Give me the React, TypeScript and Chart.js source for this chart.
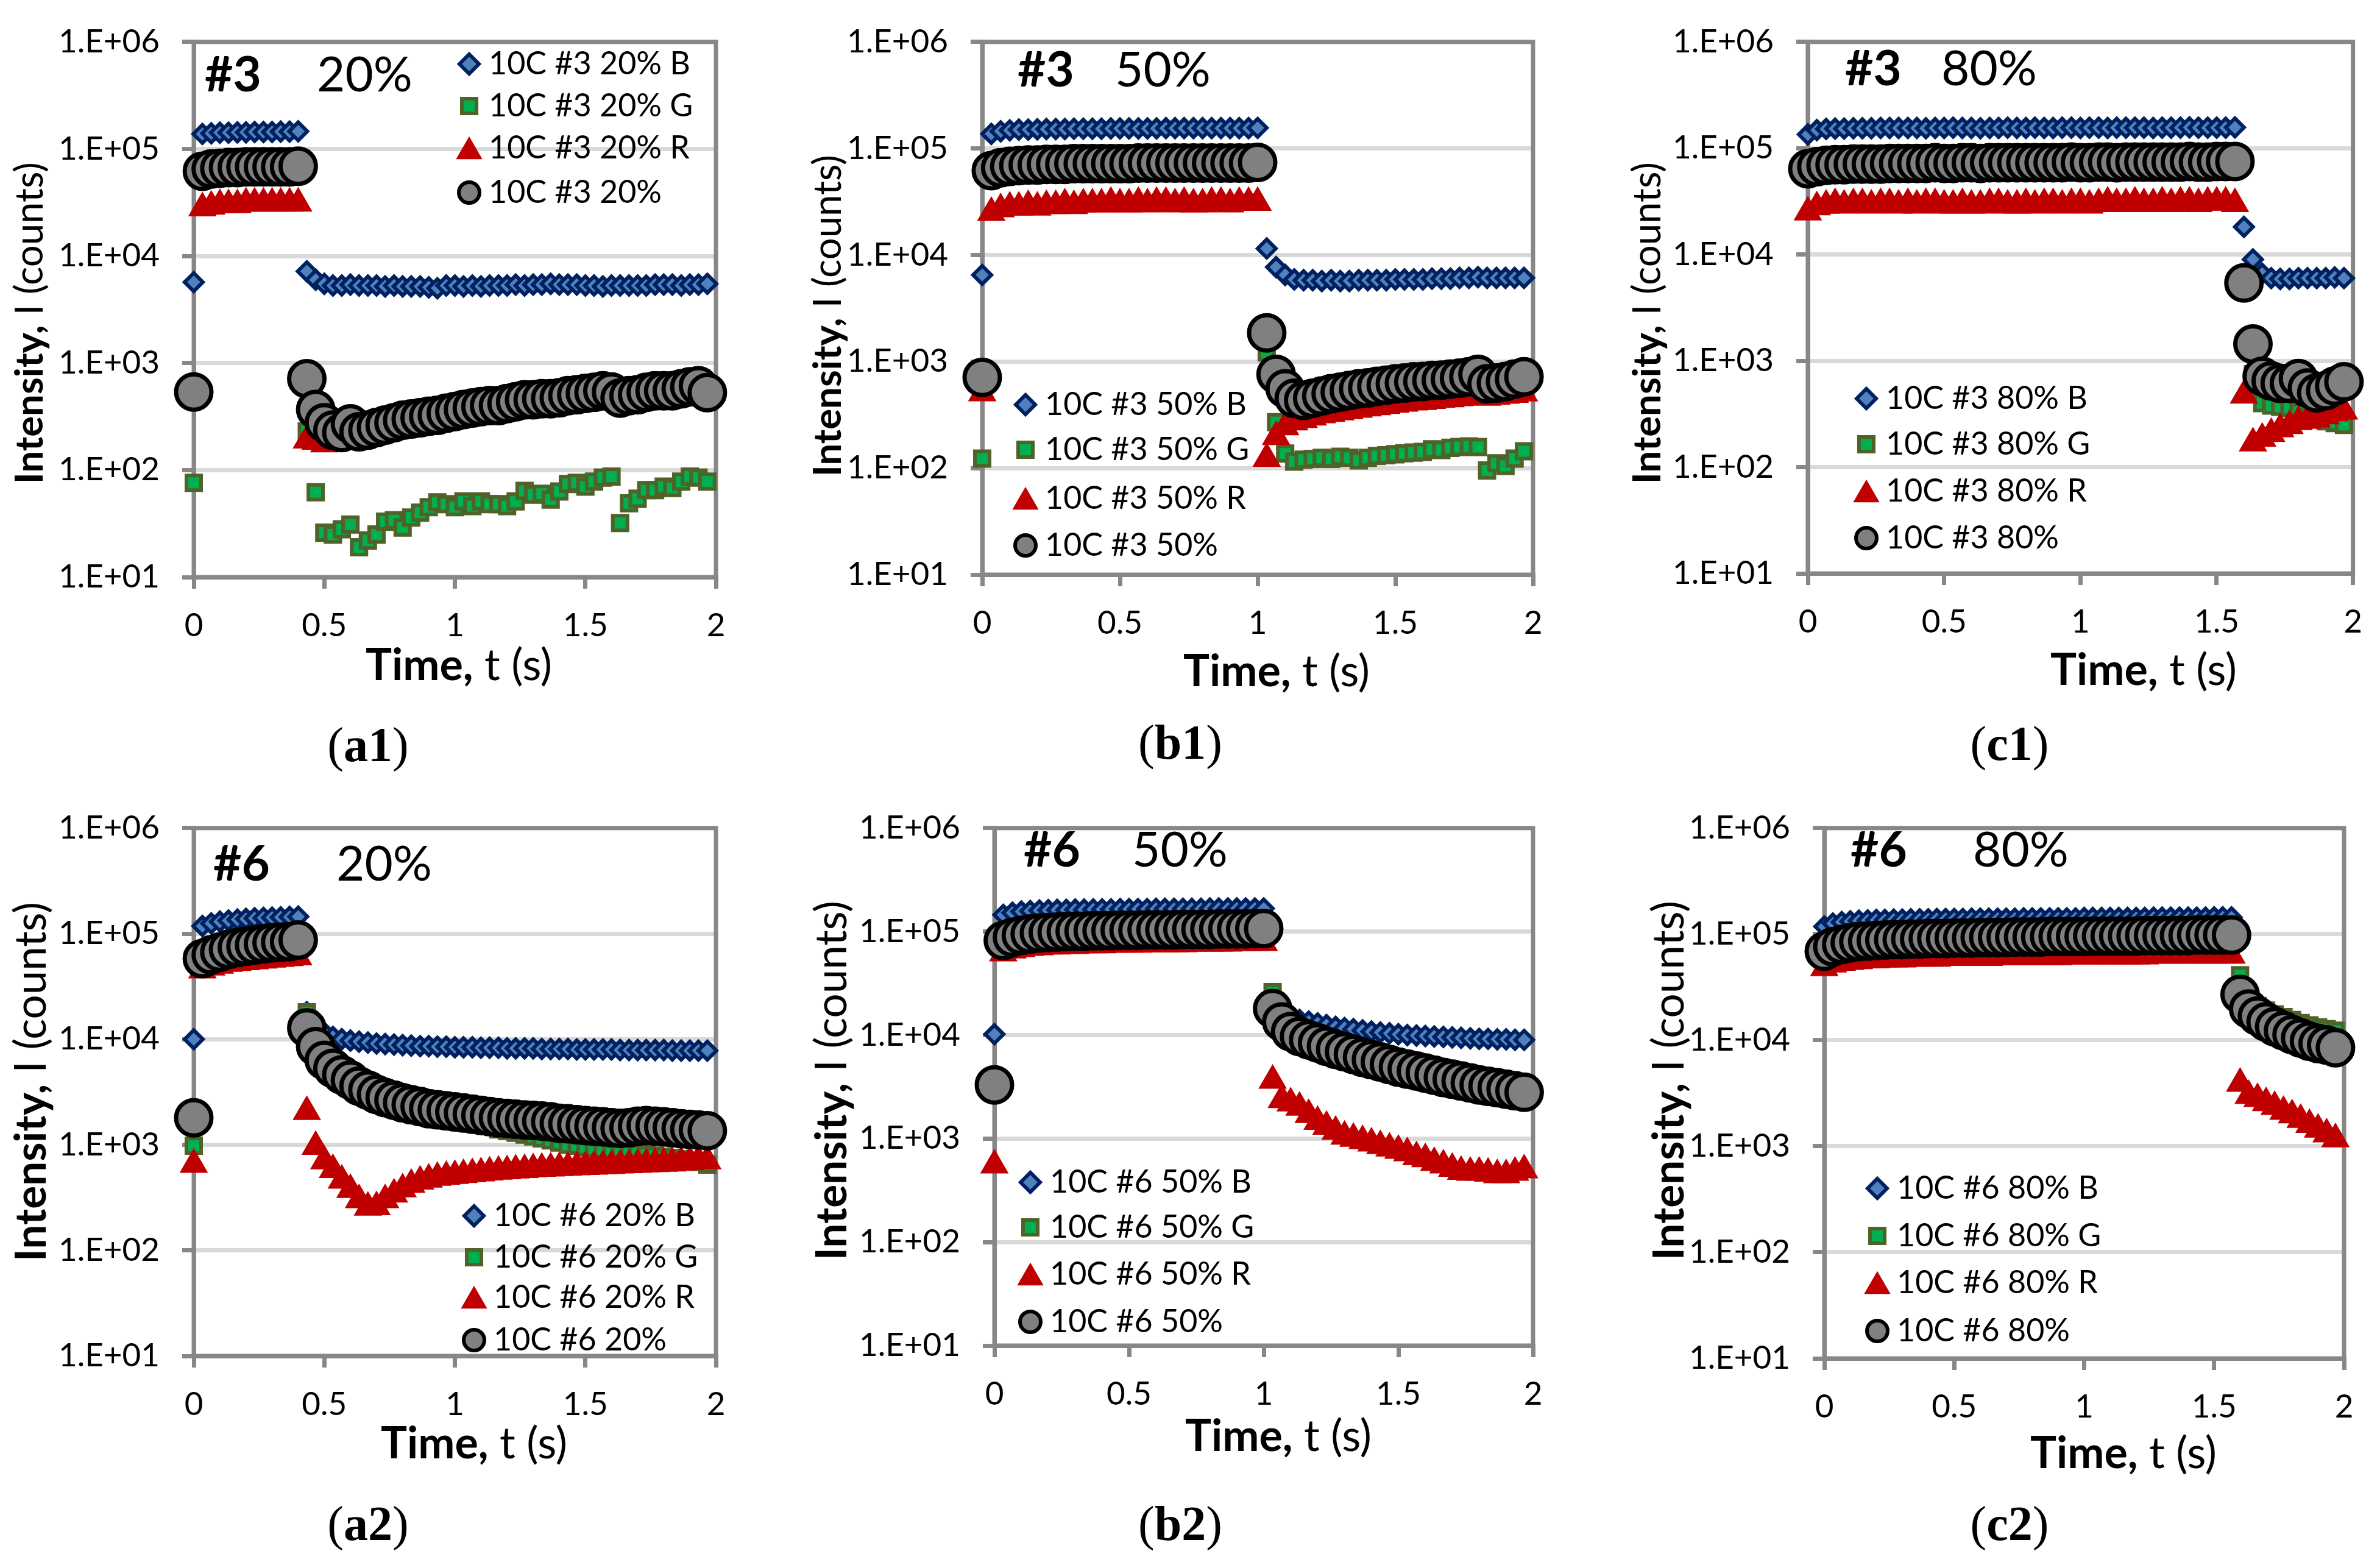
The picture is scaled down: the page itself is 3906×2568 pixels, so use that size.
import React, { useEffect, useRef } from "react";
import { Chart, registerables } from "chart.js";
import { drawPoint } from "chart.js/helpers";

Chart.register(...registerables);

const FONT = "Lato, 'Noto Sans', 'DejaVu Sans', sans-serif";
const GRAY = "#878787";
const GRID = "#D9D9D9";

// ---------- axis ticks ----------
const yTickValues = [10, 100, 1000, 10000, 100000, 1000000];
const yTickLabels = ["1.E+01", "1.E+02", "1.E+03", "1.E+04", "1.E+05", "1.E+06"];
const xTickValues = [0, 0.5, 1, 1.5, 2];
const xTickLabels = ["0", "0.5", "1", "1.5", "2"];

// ---------- time (s) ----------
const times = [0, 0.033, 0.067, 0.1, 0.133, 0.167, 0.2, 0.233, 0.267, 0.3, 0.333, 0.367, 0.4, 0.433, 0.467, 0.5, 0.533, 0.567, 0.6, 0.633, 0.667, 0.7, 0.733, 0.767, 0.8, 0.833, 0.867, 0.9, 0.933, 0.967, 1, 1.033, 1.067, 1.1, 1.133, 1.167, 1.2, 1.233, 1.267, 1.3, 1.333, 1.367, 1.4, 1.433, 1.467, 1.5, 1.533, 1.567, 1.6, 1.633, 1.667, 1.7, 1.733, 1.767, 1.8, 1.833, 1.867, 1.9, 1.933, 1.967];

// ---------- (a1) #3 20% ----------
const a1B = [5700, 138000, 140000, 142000, 142000, 143000, 143000, 144000, 144000, 144000, 145000, 145000, 146000, 7200, 6000, 5500, 5300, 5300, 5400, 5300, 5300, 5300, 5200, 5300, 5200, 5200, 5200, 5100, 5000, 5300, 5300, 5200, 5300, 5200, 5300, 5300, 5300, 5400, 5300, 5400, 5400, 5500, 5400, 5400, 5400, 5300, 5300, 5200, 5300, 5300, 5300, 5300, 5300, 5400, 5400, 5400, 5300, 5400, 5400, 5500];
const a1G = [76, 60000, 62000, 63000, 64000, 64000, 65000, 65000, 65000, 65000, 65000, 65000, 66000, 230, 62, 26, 25, 28, 31, 19, 22, 25, 33, 34, 29, 36, 40, 45, 50, 48, 45, 51, 46, 51, 48, 48, 46, 51, 64, 59, 60, 53, 63, 74, 76, 70, 78, 85, 87, 32, 49, 54, 65, 65, 70, 68, 78, 87, 85, 78];
const a1R = [520, 28000, 29000, 30000, 30000, 30000, 31000, 31000, 31000, 31000, 31000, 31000, 31000, 190, 185, 175, 220, 208, 250, 212, 220, 232, 245, 258, 272, 279, 286, 296, 302, 316, 328, 342, 353, 365, 372, 372, 389, 405, 422, 422, 432, 432, 441, 460, 470, 484, 495, 512, 500, 437, 460, 470, 495, 512, 512, 512, 535, 558, 570, 493];
const a1K = [537, 62000, 65000, 66000, 67000, 67000, 68000, 68000, 68000, 68000, 68000, 68000, 69000, 714, 368, 277, 236, 224, 270, 228, 236, 250, 263, 277, 292, 300, 308, 318, 325, 340, 353, 368, 380, 392, 400, 400, 418, 435, 454, 454, 464, 464, 474, 495, 505, 520, 532, 550, 537, 470, 495, 505, 532, 550, 550, 550, 575, 600, 613, 530];

// ---------- (b1) #3 50% ----------
const b1B = [6500, 137000, 145000, 148000, 150000, 150000, 151000, 152000, 152000, 152000, 153000, 153000, 153000, 153000, 154000, 154000, 154000, 154000, 154000, 154000, 155000, 155000, 155000, 155000, 155000, 155000, 155000, 155000, 155000, 155000, 156000, 11500, 7700, 6500, 5900, 5800, 5800, 5700, 5800, 5700, 5700, 5800, 5800, 5800, 5800, 5900, 5900, 5900, 5900, 6000, 6000, 6000, 6100, 6100, 6200, 6100, 6100, 6100, 6100, 6100];
const b1G = [123, 58000, 61000, 62000, 63000, 64000, 64000, 65000, 65000, 65000, 65000, 66000, 66000, 66000, 66000, 66000, 67000, 67000, 67000, 67000, 67000, 67000, 67000, 68000, 68000, 68000, 68000, 68000, 68000, 68000, 68000, 1220, 270, 137, 115, 120, 122, 125, 122, 128, 125, 118, 125, 130, 132, 135, 138, 140, 142, 150, 148, 155, 158, 160, 158, 95, 111, 105, 123, 144];
const b1R = [507, 25000, 27000, 28000, 28000, 29000, 28000, 29000, 29000, 30000, 29000, 30000, 30000, 30000, 31000, 30000, 30000, 31000, 30000, 31000, 31000, 30000, 31000, 30000, 30000, 31000, 31000, 30000, 31000, 31000, 31000, 123, 197, 243, 270, 285, 300, 315, 325, 335, 345, 355, 365, 375, 385, 395, 405, 415, 420, 430, 440, 445, 455, 465, 475, 460, 470, 480, 490, 505];
const b1K = [710, 62000, 66000, 68000, 69000, 70000, 70000, 71000, 71000, 71000, 72000, 72000, 72000, 72000, 72000, 72000, 72000, 73000, 73000, 73000, 73000, 73000, 73000, 73000, 73000, 73000, 73000, 73000, 73000, 73000, 74000, 1860, 760, 556, 452, 432, 452, 475, 500, 517, 535, 556, 566, 586, 600, 618, 630, 645, 650, 665, 670, 686, 700, 720, 760, 618, 630, 650, 686, 720];

// ---------- (c1) #3 80% ----------
const c1B = [135000, 148000, 152000, 153000, 153000, 154000, 154000, 154000, 155000, 155000, 155000, 155000, 155000, 154000, 155000, 155000, 156000, 155000, 155000, 154000, 155000, 155000, 156000, 155000, 155000, 156000, 155000, 155000, 156000, 156000, 155000, 156000, 156000, 155000, 156000, 156000, 156000, 156000, 155000, 156000, 156000, 156000, 157000, 156000, 156000, 156000, 156000, 157000, 18200, 9000, 6600, 6000, 5900, 5900, 6000, 6000, 6000, 6000, 6100, 6000];
const c1G = [58000, 62000, 64000, 65000, 65000, 66000, 66000, 66000, 66000, 67000, 67000, 67000, 67000, 67000, 68000, 67000, 67000, 68000, 68000, 67000, 68000, 68000, 68000, 68000, 68000, 68000, 68000, 68000, 68000, 69000, 68000, 68000, 69000, 69000, 68000, 69000, 69000, 69000, 69000, 69000, 69000, 69000, 70000, 69000, 69000, 70000, 70000, 70000, 4500, 750, 400, 380, 370, 360, 330, 300, 280, 270, 260, 250];
const c1R = [25000, 28000, 29000, 30000, 29000, 30000, 30000, 29000, 30000, 30000, 29000, 30000, 29000, 30000, 30000, 29000, 29000, 30000, 29000, 29000, 30000, 30000, 29000, 29000, 30000, 29000, 30000, 30000, 29000, 30000, 30000, 29000, 30000, 31000, 30000, 30000, 31000, 30000, 30000, 31000, 30000, 31000, 31000, 30000, 31000, 31000, 31000, 30000, 473, 168, 186, 206, 228, 245, 267, 275, 282, 302, 323, 335];
const c1K = [64000, 67000, 69000, 70000, 70000, 71000, 71000, 71000, 71000, 72000, 72000, 72000, 72000, 72000, 73000, 72000, 72000, 73000, 73000, 72000, 73000, 73000, 73000, 73000, 73000, 73000, 73000, 73000, 73000, 74000, 73000, 73000, 74000, 74000, 73000, 74000, 74000, 74000, 74000, 74000, 74000, 74000, 75000, 74000, 74000, 75000, 75000, 75000, 5400, 1440, 716, 647, 615, 615, 680, 555, 500, 525, 580, 635];

// ---------- (a2) #6 20% ----------
const a2B = [10000, 118000, 125000, 130000, 133000, 136000, 138000, 140000, 141000, 142000, 143000, 144000, 145000, 18000, 13500, 11500, 10500, 10000, 9700, 9500, 9300, 9100, 9000, 8900, 8800, 8700, 8600, 8600, 8500, 8500, 8400, 8400, 8400, 8300, 8300, 8300, 8200, 8200, 8200, 8200, 8100, 8100, 8100, 8100, 8000, 8000, 8000, 8000, 8000, 7900, 7900, 7900, 7900, 7900, 7900, 7800, 7800, 7800, 7800, 7800];
const a2G = [980, 52000, 57000, 61000, 64000, 67000, 69000, 71000, 72000, 74000, 75000, 76000, 78000, 18000, 9000, 6500, 5200, 4400, 3900, 3400, 3100, 2800, 2600, 2450, 2300, 2200, 2100, 2000, 1950, 1900, 1850, 1800, 1700, 1600, 1500, 1400, 1350, 1300, 1250, 1200, 1150, 1100, 1050, 1000, 980, 950, 930, 910, 890, 870, 850, 830, 810, 790, 770, 750, 730, 710, 690, 650];
const a2R = [650, 45000, 48000, 50000, 52000, 53000, 54000, 55000, 56000, 57000, 58000, 59000, 60000, 2060, 960, 700, 580, 460, 375, 300, 255, 258, 300, 340, 380, 420, 450, 470, 490, 500, 510, 520, 530, 540, 550, 560, 565, 575, 580, 590, 595, 600, 605, 610, 615, 620, 625, 630, 635, 640, 645, 650, 655, 660, 665, 670, 680, 690, 700, 700];
const a2K = [1800, 58000, 63000, 67000, 71000, 74000, 76000, 78000, 80000, 82000, 83000, 84000, 87000, 12800, 8500, 6300, 5300, 4600, 4100, 3600, 3300, 3000, 2800, 2650, 2500, 2400, 2300, 2200, 2150, 2100, 2050, 2000, 1950, 1900, 1850, 1800, 1780, 1750, 1720, 1700, 1680, 1650, 1600, 1580, 1550, 1520, 1500, 1480, 1450, 1430, 1450, 1500, 1520, 1500, 1480, 1450, 1420, 1400, 1380, 1360];

// ---------- (b2) #6 50% ----------
const b2B = [10200, 145000, 152000, 156000, 158000, 160000, 161000, 162000, 162000, 163000, 163000, 164000, 164000, 164000, 165000, 165000, 165000, 165000, 166000, 166000, 166000, 166000, 166000, 166000, 167000, 167000, 167000, 167000, 167000, 167000, 167000, 22000, 17000, 15000, 14000, 13500, 13000, 12500, 12000, 11700, 11400, 11100, 10800, 10600, 10400, 10200, 10000, 9900, 9800, 9700, 9600, 9500, 9400, 9300, 9200, 9200, 9100, 9100, 9000, 9000];
const b2G = [3000, 76000, 82000, 86000, 88000, 90000, 91000, 92000, 93000, 94000, 94000, 95000, 95000, 96000, 96000, 96000, 97000, 97000, 97000, 98000, 98000, 98000, 98000, 99000, 99000, 99000, 99000, 100000, 100000, 100000, 100000, 26000, 16000, 13000, 11500, 10500, 9700, 9000, 8400, 7900, 7400, 7000, 6600, 6200, 5900, 5600, 5300, 5000, 4800, 4600, 4400, 4200, 4000, 3850, 3700, 3550, 3400, 3300, 3200, 3100];
const b2R = [553, 62000, 66000, 68000, 70000, 71000, 72000, 72000, 73000, 73000, 74000, 74000, 74000, 75000, 75000, 75000, 75000, 76000, 76000, 76000, 76000, 76000, 77000, 77000, 77000, 77000, 77000, 78000, 78000, 78000, 78000, 3640, 2370, 2200, 2000, 1700, 1460, 1310, 1170, 1050, 1000, 950, 900, 850, 805, 765, 725, 665, 635, 584, 553, 513, 480, 470, 470, 460, 446, 446, 470, 497];
const b2K = [3300, 82000, 88000, 92000, 95000, 97000, 98000, 99000, 100000, 101000, 101000, 102000, 102000, 102000, 103000, 103000, 103000, 104000, 104000, 104000, 104000, 105000, 105000, 105000, 105000, 106000, 106000, 106000, 106000, 107000, 107000, 18000, 13400, 10800, 9700, 9000, 8400, 7800, 7300, 6900, 6500, 6100, 5800, 5500, 5200, 4900, 4700, 4500, 4300, 4100, 3900, 3750, 3600, 3450, 3300, 3200, 3100, 3000, 2900, 2800];

// ---------- (c2) #6 80% ----------
const c2B = [118000, 126000, 130000, 132000, 134000, 135000, 136000, 136000, 137000, 137000, 138000, 138000, 138000, 139000, 139000, 139000, 139000, 140000, 140000, 140000, 140000, 140000, 140000, 141000, 141000, 141000, 141000, 141000, 141000, 141000, 142000, 142000, 142000, 142000, 142000, 142000, 142000, 142000, 143000, 143000, 143000, 143000, 143000, 143000, 143000, 144000, 144000, 144000, 33000, 22000, 19000, 17000, 16000, 15000, 14000, 13300, 12700, 12100, 11700, 11200];
const c2G = [62000, 68000, 72000, 75000, 77000, 78000, 79000, 80000, 80000, 81000, 81000, 82000, 82000, 82000, 83000, 83000, 83000, 84000, 84000, 84000, 84000, 85000, 85000, 85000, 85000, 85000, 86000, 86000, 86000, 86000, 86000, 87000, 87000, 87000, 87000, 87000, 87000, 88000, 88000, 88000, 88000, 88000, 88000, 89000, 89000, 89000, 89000, 89000, 41000, 25000, 21000, 19000, 17500, 16500, 15500, 14500, 13800, 13200, 12700, 12300];
const c2R = [48000, 52000, 54000, 55000, 56000, 57000, 57000, 58000, 58000, 58000, 59000, 59000, 59000, 59000, 60000, 60000, 60000, 60000, 60000, 60000, 61000, 61000, 61000, 61000, 61000, 61000, 61000, 61000, 62000, 62000, 62000, 62000, 62000, 62000, 62000, 62000, 62000, 62000, 63000, 63000, 63000, 63000, 63000, 63000, 63000, 63000, 63000, 63000, 3900, 3000, 2800, 2560, 2360, 2120, 1970, 1780, 1600, 1440, 1300, 1170];
const c2K = [69000, 76000, 80000, 83000, 85000, 86000, 87000, 88000, 89000, 89000, 90000, 90000, 91000, 91000, 91000, 92000, 92000, 92000, 93000, 93000, 93000, 93000, 94000, 94000, 94000, 94000, 95000, 95000, 95000, 95000, 95000, 96000, 96000, 96000, 96000, 96000, 96000, 97000, 97000, 97000, 97000, 97000, 97000, 98000, 98000, 98000, 98000, 98000, 27000, 19700, 16900, 14900, 13400, 12300, 11300, 10500, 9800, 9300, 9000, 8500];

// ---------- styles ----------
type SeriesKey = "B" | "G" | "R" | "K";
const seriesOrder: SeriesKey[] = ["B", "G", "R", "K"];
const seriesSuffix: Record<SeriesKey, string> = { B: " B", G: " G", R: " R", K: "" };
const seriesStyle: Record<SeriesKey, any> = {
  B: { pointStyle: "rectRot", radius: 15, borderWidth: 6, bg: "#4F81BD", border: "#002060", lr: 16, lbw: 6, order: 3 },
  G: { pointStyle: "rect", radius: 17, borderWidth: 6, bg: "#00B050", border: "#4F6228", lr: 17, lbw: 6, order: 2 },
  R: { pointStyle: "triangle", radius: 25, borderWidth: 2, bg: "#C00000", border: "#C00000", lr: 23, lbw: 2, order: 1 },
  K: { pointStyle: "circle", radius: 29, borderWidth: 7, bg: "#808080", border: "#000000", lr: 17, lbw: 6, order: 0 },
};

const Y_AXIS_W = 230;
const X_AXIS_H = 120;

type PanelCfg = {
  key: string;
  sample: string;
  pct: string;
  data: Record<SeriesKey, number[]>;
  cell: { x: number; y: number; w: number; h: number };
  plot: { l: number; t: number; r: number; b: number };
  tag: { x1: number; x2: number; y: number };
  legend: { mx: number; tx: number; rows: number[] };
  yTitle: { x: number; y: number; len: number };
  xTitle: { x: number; y: number; len: number };
  caption: { x: number; y: number; letter: string };
};

const panels: PanelCfg[] = [
  {
    key: "a1", sample: "#3", pct: "20%",
    data: { B: a1B, G: a1G, R: a1R, K: a1K },
    cell: { x: 0, y: 0, w: 1300, h: 1290 },
    plot: { l: 318, t: 62, r: 1175, b: 947 },
    tag: { x1: 336, x2: 520, y: 150 },
    legend: { mx: 770, tx: 802, rows: [105, 174, 243, 316] },
    yTitle: { x: 50, y: 530, len: 528 },
    xTitle: { x: 753, y: 1093, len: 306 },
    caption: { x: 604, y: 1222, letter: "a1" },
  },
  {
    key: "b1", sample: "#3", pct: "50%",
    data: { B: b1B, G: b1G, R: b1R, K: b1K },
    cell: { x: 1300, y: 0, w: 1300, h: 1290 },
    plot: { l: 1612, t: 48, r: 2516, b: 943 },
    tag: { x1: 1670, x2: 1830, y: 142 },
    legend: { mx: 1683, tx: 1715, rows: [664, 738, 818, 895] },
    yTitle: { x: 1360, y: 518, len: 528 },
    xTitle: { x: 2095, y: 1103, len: 306 },
    caption: { x: 1937, y: 1218, letter: "b1" },
  },
  {
    key: "c1", sample: "#3", pct: "80%",
    data: { B: c1B, G: c1G, R: c1R, K: c1K },
    cell: { x: 2600, y: 0, w: 1306, h: 1290 },
    plot: { l: 2967, t: 45, r: 3872, b: 941 },
    tag: { x1: 3028, x2: 3186, y: 140 },
    legend: { mx: 3063, tx: 3095, rows: [654, 729, 806, 883] },
    yTitle: { x: 2705, y: 530, len: 528 },
    xTitle: { x: 3518, y: 1101, len: 306 },
    caption: { x: 3298, y: 1220, letter: "c1" },
  },
  {
    key: "a2", sample: "#6", pct: "20%",
    data: { B: a2B, G: a2G, R: a2R, K: a2K },
    cell: { x: 0, y: 1290, w: 1300, h: 1278 },
    plot: { l: 318, t: 1353, r: 1175, b: 2225 },
    tag: { x1: 350, x2: 552, y: 1445 },
    legend: { mx: 778, tx: 810, rows: [1995, 2063, 2129, 2199] },
    yTitle: { x: 52, y: 1775, len: 590 },
    xTitle: { x: 778, y: 2370, len: 306 },
    caption: { x: 604, y: 2500, letter: "a2" },
  },
  {
    key: "b2", sample: "#6", pct: "50%",
    data: { B: b2B, G: b2G, R: b2R, K: b2K },
    cell: { x: 1300, y: 1290, w: 1300, h: 1278 },
    plot: { l: 1632, t: 1338, r: 2516, b: 2208 },
    tag: { x1: 1680, x2: 1858, y: 1422 },
    legend: { mx: 1691, tx: 1723, rows: [1940, 2014, 2091, 2169] },
    yTitle: { x: 1366, y: 1773, len: 590 },
    xTitle: { x: 2098, y: 2358, len: 306 },
    caption: { x: 1937, y: 2500, letter: "b2" },
  },
  {
    key: "c2", sample: "#6", pct: "80%",
    data: { B: c2B, G: c2G, R: c2R, K: c2K },
    cell: { x: 2600, y: 1290, w: 1306, h: 1278 },
    plot: { l: 2994, t: 1331, r: 3847, b: 2229 },
    tag: { x1: 3037, x2: 3238, y: 1422 },
    legend: { mx: 3081, tx: 3113, rows: [1950, 2028, 2105, 2184] },
    yTitle: { x: 2740, y: 1773, len: 590 },
    xTitle: { x: 3485, y: 2386, len: 306 },
    caption: { x: 3298, y: 2500, letter: "c2" },
  },
];

type Part = { text: string; bold: boolean };

function partsWidth(ctx: CanvasRenderingContext2D, parts: Part[], size: number) {
  let w = 0;
  for (const p of parts) {
    ctx.font = `${p.bold ? "bold " : ""}${size}px ${FONT}`;
    w += ctx.measureText(p.text).width;
  }
  return w;
}

function drawPartsCentered(ctx: CanvasRenderingContext2D, parts: Part[], cx: number, cy: number, targetLen: number) {
  const base = 60;
  const size = (base * targetLen) / partsWidth(ctx, parts, base);
  const w = partsWidth(ctx, parts, size);
  let x = cx - w / 2;
  ctx.textBaseline = "middle";
  ctx.textAlign = "left";
  ctx.fillStyle = "#000";
  for (const p of parts) {
    ctx.font = `${p.bold ? "bold " : ""}${size}px ${FONT}`;
    ctx.fillText(p.text, x, cy);
    x += ctx.measureText(p.text).width;
  }
}

function makeDecor(p: PanelCfg) {
  const ox = p.cell.x;
  const oy = p.cell.y;
  return {
    id: "decor_" + p.key,
    beforeDatasetsDraw(chart: any) {
      const { ctx, chartArea: a } = chart;
      ctx.save();
      ctx.strokeStyle = GRAY;
      ctx.lineWidth = 7;
      ctx.strokeRect(a.left, a.top, a.right - a.left, a.bottom - a.top);
      ctx.restore();
    },
    afterDatasetsDraw(chart: any) {
      const ctx: CanvasRenderingContext2D = chart.ctx;
      ctx.save();
      ctx.fillStyle = "#000";
      ctx.textBaseline = "alphabetic";
      ctx.textAlign = "left";
      ctx.font = `bold 80px ${FONT}`;
      ctx.fillText(p.sample, p.tag.x1 - ox, p.tag.y - oy);
      ctx.font = `80px ${FONT}`;
      ctx.fillText(p.pct, p.tag.x2 - ox, p.tag.y - oy);
      seriesOrder.forEach((k, i) => {
        const s = seriesStyle[k];
        const y = p.legend.rows[i] - oy;
        const yOff = s.pointStyle === "triangle" ? s.lr * 0.25 : 0;
        ctx.fillStyle = s.bg;
        ctx.strokeStyle = s.border;
        ctx.lineWidth = s.lbw;
        drawPoint(ctx, { pointStyle: s.pointStyle, radius: s.lr, borderWidth: s.lbw, rotation: 0 } as any, p.legend.mx - ox, y + yOff);
        ctx.fillStyle = "#000";
        ctx.font = `52px ${FONT}`;
        ctx.textBaseline = "middle";
        ctx.textAlign = "left";
        ctx.fillText(`10C ${p.sample} ${p.pct}${seriesSuffix[k]}`, p.legend.tx - ox, y);
      });
      ctx.restore();
    },
    afterDraw(chart: any) {
      const ctx: CanvasRenderingContext2D = chart.ctx;
      ctx.save();
      ctx.translate(p.yTitle.x - ox, p.yTitle.y - oy);
      ctx.rotate(-Math.PI / 2);
      drawPartsCentered(ctx, [{ text: "Intensity,", bold: true }, { text: " I (counts)", bold: false }], 0, 0, p.yTitle.len);
      ctx.restore();
      ctx.save();
      drawPartsCentered(ctx, [{ text: "Time,", bold: true }, { text: " t (s)", bold: false }], p.xTitle.x - ox, p.xTitle.y - oy, p.xTitle.len);
      ctx.restore();
    },
  };
}

function Panel({ p }: { p: PanelCfg }) {
  const ref = useRef<HTMLCanvasElement>(null);
  useEffect(() => {
    const canvas = ref.current;
    if (!canvas) return;
    const datasets = seriesOrder.map((k) => {
      const s = seriesStyle[k];
      const vals = p.data[k];
      return {
        label: `10C ${p.sample} ${p.pct}${seriesSuffix[k]}`,
        data: times.map((t, i) => ({ x: t, y: vals[i] })),
        pointStyle: s.pointStyle,
        pointRadius: s.radius,
        pointHoverRadius: s.radius,
        pointBorderWidth: s.borderWidth,
        pointHoverBorderWidth: s.borderWidth,
        pointBackgroundColor: s.bg,
        pointBorderColor: s.border,
        showLine: false,
        clip: false as any,
        order: s.order,
      };
    });
    const chart = new Chart(canvas, {
      type: "scatter",
      data: { datasets },
      options: {
        responsive: false,
        animation: false,
        events: [],
        layout: {
          padding: {
            left: p.plot.l - p.cell.x - Y_AXIS_W,
            top: p.plot.t - p.cell.y,
            right: p.cell.x + p.cell.w - p.plot.r,
            bottom: p.cell.y + p.cell.h - p.plot.b - X_AXIS_H,
          },
        },
        plugins: { legend: { display: false }, tooltip: { enabled: false }, title: { display: false } },
        scales: {
          x: {
            type: "linear",
            min: 0,
            max: 2,
            afterBuildTicks: (s: any) => {
              s.ticks = xTickValues.map((v) => ({ value: v }));
            },
            afterFit: (s: any) => {
              s.height = X_AXIS_H;
            },
            ticks: {
              callback: (v: any) => xTickLabels[xTickValues.indexOf(Number(v))] ?? "",
              font: { family: FONT, size: 53 },
              color: "#000",
              padding: 29,
              maxRotation: 0,
              autoSkip: false,
            },
            grid: { drawOnChartArea: false, drawTicks: true, tickLength: 19, tickWidth: 7, tickColor: GRAY, lineWidth: 7, color: GRAY },
            border: { display: true, color: GRAY, width: 7 },
          },
          y: {
            type: "logarithmic",
            min: 10,
            max: 1000000,
            afterBuildTicks: (s: any) => {
              s.ticks = yTickValues.map((v) => ({ value: v }));
            },
            afterFit: (s: any) => {
              s.width = Y_AXIS_W;
            },
            ticks: {
              callback: (v: any) => yTickLabels[yTickValues.indexOf(Number(v))] ?? "",
              font: { family: FONT, size: 53 },
              color: "#000",
              padding: 37,
              autoSkip: false,
            },
            grid: { color: GRID, lineWidth: 7, drawTicks: true, tickLength: 19, tickWidth: 7, tickColor: GRAY },
            border: { display: true, color: GRAY, width: 7 },
          },
        },
      } as any,
      plugins: [makeDecor(p)],
    });
    return () => chart.destroy();
  }, [p]);
  return (
    <canvas
      ref={ref}
      width={p.cell.w}
      height={p.cell.h}
      style={{ position: "absolute", left: p.cell.x, top: p.cell.y, width: p.cell.w, height: p.cell.h }}
    />
  );
}

export default function App() {
  return (
    <div style={{ position: "absolute", left: 0, top: 0, width: 3906, height: 2568, background: "#fff", overflow: "hidden" }}>
      {panels.map((p) => (
        <Panel key={p.key} p={p} />
      ))}
      {panels.map((p) => (
        <div
          key={"cap" + p.key}
          style={{
            position: "absolute",
            left: p.caption.x,
            top: p.caption.y,
            transform: "translate(-50%, -50%)",
            fontFamily: "'Liberation Serif', 'DejaVu Serif', serif",
            fontSize: 80,
            lineHeight: 1,
            color: "#000",
            whiteSpace: "nowrap",
          }}
        >
          (<b>{p.caption.letter}</b>)
        </div>
      ))}
    </div>
  );
}
